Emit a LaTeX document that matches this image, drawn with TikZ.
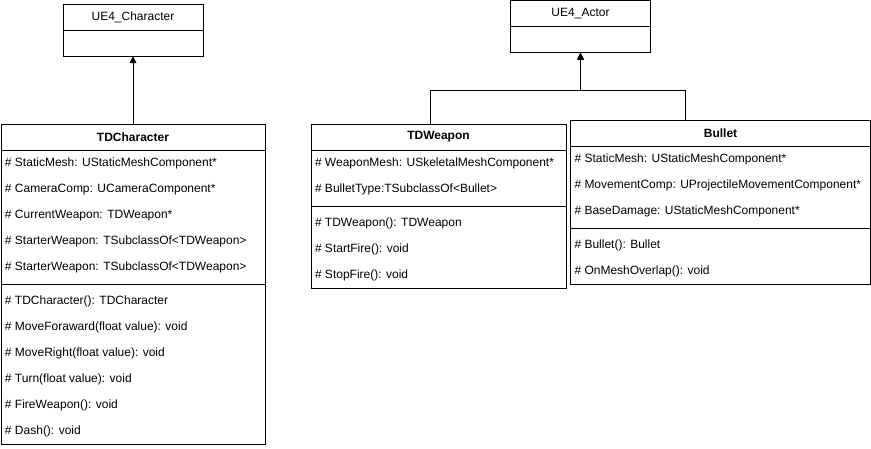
\documentclass[tikz,border=0pt]{standalone}
\usepackage{fontspec}
\setmainfont{Liberation Sans}
\usepackage{tikz}
\usetikzlibrary{arrows.meta}
\usetikzlibrary{positioning, fit}
\tikzset{uml-line/.style={line width=1pt}}
\tikzset{>={Triangle[length=7pt, width=6.5pt]}}
\tikzset{uml-head/.style={draw, line width=1pt, inner sep=0, outer sep=0, minimum height=26pt, font=\fontsize{12pt}{14pt}\selectfont}}
\tikzset{uml-title/.style={uml-head, font=\bfseries\fontsize{12pt}{14pt}\selectfont}}
\tikzset{uml-empty/.style={draw, line width=1pt, inner sep=0, outer sep=0, minimum height=26pt}}
\tikzset{uml-row/.style={inner sep=0, outer sep=0, minimum height=26pt, text height=9pt, text depth=3pt, anchor=north west, font=\fontsize{12pt}{14pt}\selectfont}}
\tikzset{uml-box/.style={draw, line width=1pt, inner sep=0, outer sep=0}}

\begin{document}
\begin{tikzpicture}[x=1pt, y=1pt]
            \fill[white] (0,0) rectangle (871,-448);

            % base classes
            \node[uml-head, minimum width=140pt] (character-base) at (133,-17) {UE4\_Character};
            \node[uml-empty, minimum width=140pt, below=0pt of character-base] (character-base-body) {};

            \node[uml-head, minimum width=140pt] (actor-base) at (580.5,-13.5) {UE4\_Actor};
            \node[uml-empty, minimum width=140pt, below=0pt of actor-base] (actor-base-body) {};

            % TDCharacter
            \node[uml-title, minimum width=264pt] (character-head) at (133,-137) {TDCharacter};
            \node[uml-row, below right=0pt and 4pt of character-head.south west] (character-a1) {\# StaticMesh: UStaticMeshComponent*};
            \node[below=0pt of character-a1.south west, uml-row] (character-a2) {\# CameraComp: UCameraComponent*};
            \node[below=0pt of character-a2.south west, uml-row] (character-a3) {\# CurrentWeapon: TDWeapon*};
            \node[below=0pt of character-a3.south west, uml-row] (character-a4) {\# StarterWeapon: TSubclassOf<TDWeapon>};
            \node[below=0pt of character-a4.south west, uml-row] (character-a5) {\# StarterWeapon: TSubclassOf<TDWeapon>};
            \coordinate[below=4pt of character-a5.south west] (character-sep);
            \node[below=8pt of character-a5.south west, uml-row] (character-m1) {\# TDCharacter(): TDCharacter};
            \node[below=0pt of character-m1.south west, uml-row] (character-m2) {\# MoveForaward(float value): void};
            \node[below=0pt of character-m2.south west, uml-row] (character-m3) {\# MoveRight(float value): void};
            \node[below=0pt of character-m3.south west, uml-row] (character-m4) {\# Turn(float value): void};
            \node[below=0pt of character-m4.south west, uml-row] (character-m5) {\# FireWeapon(): void};
            \node[below=0pt of character-m5.south west, uml-row] (character-m6) {\# Dash(): void};
            \node[uml-box, fit=(character-head)(character-m6)] (character) {};
            \draw[uml-line] (character-sep -| character-head.west) -- (character-sep -| character-head.east);

            % TDWeapon
            \node[uml-title, minimum width=255pt] (weapon-head) at (438.5,-137) {TDWeapon};
            \node[uml-row, below right=0pt and 4pt of weapon-head.south west] (weapon-a1) {\# WeaponMesh: USkeletalMeshComponent*};
            \node[below=0pt of weapon-a1.south west, uml-row] (weapon-a2) {\# BulletType:TSubclassOf<Bullet>};
            \coordinate[below=4pt of weapon-a2.south west] (weapon-sep);
            \node[below=8pt of weapon-a2.south west, uml-row] (weapon-m1) {\# TDWeapon(): TDWeapon};
            \node[below=0pt of weapon-m1.south west, uml-row] (weapon-m2) {\# StartFire(): void};
            \node[below=0pt of weapon-m2.south west, uml-row] (weapon-m3) {\# StopFire(): void};
            \node[uml-box, fit=(weapon-head)(weapon-m3)] (weapon) {};
            \draw[uml-line] (weapon-sep -| weapon-head.west) -- (weapon-sep -| weapon-head.east);

            % Bullet
            \node[uml-title, minimum width=300pt] (bullet-head) at (720.5,-133.5) {Bullet};
            \node[uml-row, below right=0pt and 4pt of bullet-head.south west] (bullet-a1) {\# StaticMesh: UStaticMeshComponent*};
            \node[below=0pt of bullet-a1.south west, uml-row] (bullet-a2) {\# MovementComp: UProjectileMovementComponent*};
            \node[below=0pt of bullet-a2.south west, uml-row] (bullet-a3) {\# BaseDamage: UStaticMeshComponent*};
            \coordinate[below=4pt of bullet-a3.south west] (bullet-sep);
            \node[below=8pt of bullet-a3.south west, uml-row] (bullet-m1) {\# Bullet(): Bullet};
            \node[below=0pt of bullet-m1.south west, uml-row] (bullet-m2) {\# OnMeshOverlap(): void};
            \node[uml-box, fit=(bullet-head)(bullet-m2)] (bullet) {};
            \draw[uml-line] (bullet-sep -| bullet-head.west) -- (bullet-sep -| bullet-head.east);

            % inheritance
            \coordinate[below=38pt of actor-base-body.south] (actor-join);
            \draw[->, uml-line] (character-head) -- (character-base-body);
            \draw[->, uml-line] ([xshift=-8pt]weapon-head.north) |- (actor-join) -- (actor-base-body);
            \draw[->, uml-line] ([xshift=-35pt]bullet-head.north) |- (actor-join) -- (actor-base-body);

        \end{tikzpicture}
\end{document}
